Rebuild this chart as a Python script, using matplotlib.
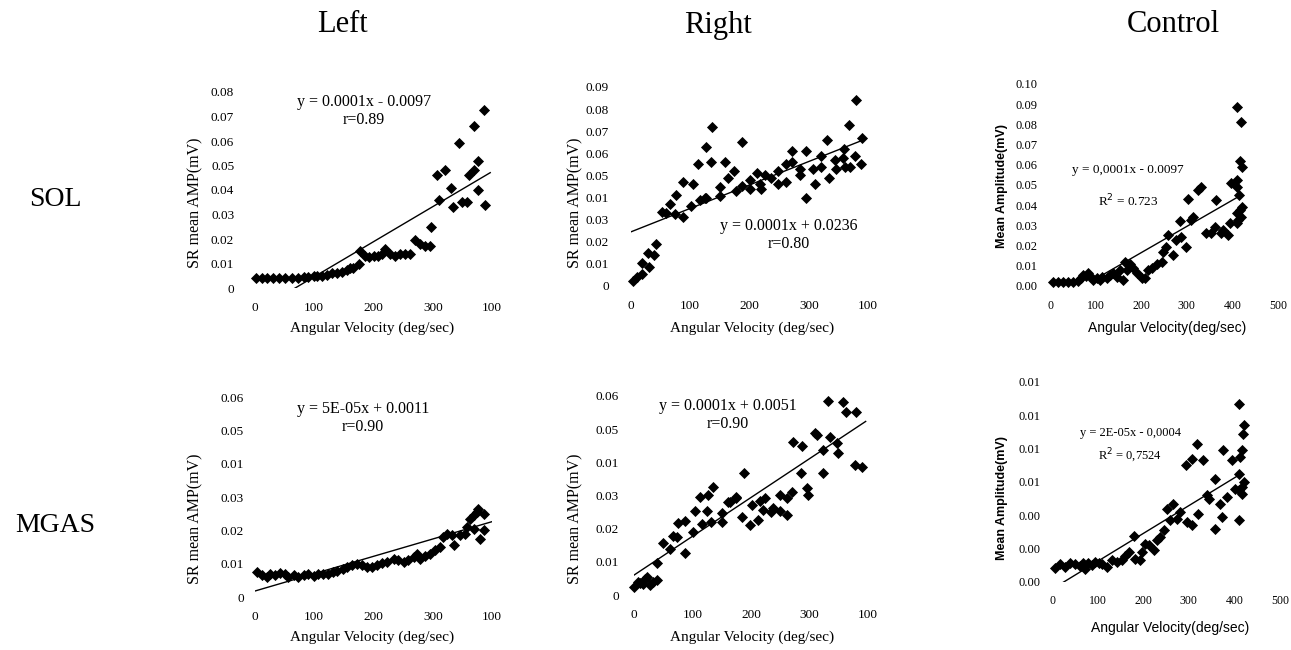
import matplotlib
matplotlib.use("Agg")
import matplotlib.pyplot as plt
import numpy as np

W, H = 1291, 650
SERIF = "Liberation Serif"
SANS = "Liberation Sans"

# ---------------- data ----------------
# SOL / Left
sol_left_x = [2, 11, 21, 30, 41, 51, 62, 73, 82, 90, 99, 104, 113, 121, 130, 138, 146, 155, 160, 166,
              175, 177, 186, 192, 200, 208, 214, 220, 228, 237, 245, 254, 262, 270, 279, 287, 296, 297,
              307, 310, 321, 330, 335, 344, 349, 358, 361, 369, 369, 377, 377, 387, 389]
sol_left_y = [0.004, 0.004, 0.004, 0.004, 0.004, 0.004, 0.004, 0.0042, 0.0045, 0.0045, 0.0048, 0.005, 0.005,
              0.0055, 0.006, 0.006, 0.0065, 0.0075, 0.008, 0.008, 0.0099, 0.0149, 0.013, 0.0125, 0.013,
              0.013, 0.014, 0.016, 0.014, 0.013, 0.014, 0.014, 0.014, 0.0197, 0.018, 0.017, 0.017, 0.025,
              0.046, 0.036, 0.048, 0.041, 0.033, 0.059, 0.035, 0.035, 0.046, 0.048, 0.066, 0.052, 0.040,
              0.0725, 0.034]
# SOL / Right
sol_right_x = [3, 10, 18, 18, 28, 31, 38, 42, 52, 59, 66, 76, 74, 88, 88, 102, 105, 113, 116, 125, 127, 127,
               136, 135, 150, 150, 158, 163, 174, 178, 187, 188, 201, 201, 212, 217, 220, 226, 237, 248,
               248, 261, 262, 271, 271, 285, 285, 296, 296, 307, 310, 321, 321, 330, 334, 345, 346, 358,
               362, 360, 368, 369, 378, 379, 389, 390]
sol_right_y = [0.0024, 0.0039, 0.0054, 0.0102, 0.0148, 0.0084, 0.014, 0.019, 0.0336, 0.033, 0.037, 0.041,
               0.0325, 0.031, 0.047, 0.036, 0.046, 0.055, 0.039, 0.040, 0.040, 0.063, 0.072, 0.056, 0.0446,
               0.0407, 0.056, 0.049, 0.052, 0.043, 0.045, 0.065, 0.044, 0.048, 0.051, 0.046, 0.044, 0.050,
               0.049, 0.052, 0.046, 0.047, 0.055, 0.061, 0.056, 0.053, 0.050, 0.061, 0.040, 0.053, 0.046,
               0.059, 0.054, 0.066, 0.049, 0.057, 0.053, 0.058, 0.054, 0.062, 0.073, 0.054, 0.059, 0.084,
               0.055, 0.067]
# SOL / Control
sol_ctrl_x = [7, 18, 29, 40, 51, 62, 69, 73, 80, 84, 91, 95, 102, 109, 113, 124, 131, 139, 146, 153, 161,
              164, 168, 175, 182, 190, 201, 208, 215, 223, 234, 245, 248, 255, 259, 270, 277, 285, 288,
              299, 303, 310, 314, 325, 332, 343, 354, 361, 365, 376, 380, 391, 394, 398, 409, 409, 409,
              410, 409, 415, 416, 420, 418, 416, 422, 418, 412]
sol_ctrl_y = [0.0021, 0.0021, 0.0021, 0.0021, 0.0021, 0.0024, 0.0038, 0.0054, 0.005, 0.0066, 0.0046, 0.003,
              0.0038, 0.003, 0.0046, 0.0038, 0.0054, 0.0063, 0.0046, 0.0079, 0.003, 0.012, 0.0079, 0.011,
              0.0087, 0.0063, 0.0038, 0.0038, 0.0079, 0.0087, 0.011, 0.012, 0.017, 0.0195, 0.025, 0.0153,
              0.0228, 0.032, 0.0244, 0.0195, 0.043, 0.0327, 0.0343, 0.0475, 0.049, 0.026, 0.026, 0.029,
              0.0426, 0.026, 0.0277, 0.025, 0.031, 0.051, 0.036, 0.031, 0.0525, 0.049, 0.0884, 0.045,
              0.062, 0.059, 0.081, 0.0376, 0.039, 0.034, 0.0327]
# MGAS / Left
mgas_left_x = [3, 11, 20, 25, 34, 42, 51, 56, 65, 73, 82, 90, 99, 107, 115, 124, 132, 138, 149, 155, 163,
               172, 180, 189, 197, 206, 214, 223, 234, 242, 251, 259, 268, 273, 279, 287, 296, 304, 313,
               318, 324, 332, 336, 346, 355, 358, 363, 369, 375, 377, 369, 380, 387, 387]
mgas_left_y = [0.0075, 0.0065, 0.006, 0.007, 0.0065, 0.0072, 0.007, 0.006, 0.0065, 0.006, 0.0065, 0.0068,
               0.0062, 0.0068, 0.0068, 0.007, 0.0075, 0.0078, 0.0085, 0.009, 0.0095, 0.010, 0.0095, 0.009,
               0.009, 0.0095, 0.0102, 0.0105, 0.0115, 0.011, 0.0105, 0.011, 0.012, 0.013, 0.0115, 0.0122,
               0.013, 0.014, 0.015, 0.018, 0.019, 0.0185, 0.0155, 0.0185, 0.019, 0.021, 0.0235, 0.0245,
               0.0255, 0.0265, 0.0205, 0.0175, 0.025, 0.020]
# MGAS / Right
mgas_right_x = [0, 6, 10, 16, 19, 23, 27, 33, 40, 39, 50, 61, 66, 74, 75, 87, 87, 101, 104, 116, 113, 124,
                127, 132, 135, 150, 150, 161, 164, 174, 175, 185, 188, 199, 201, 212, 215, 221, 224, 235,
                238, 249, 249, 261, 262, 270, 272, 288, 286, 295, 298, 309, 312, 323, 323, 335, 332, 347,
                348, 358, 363, 377, 380, 390]
mgas_right_y = [0.0025, 0.004, 0.0035, 0.0033, 0.0047, 0.0055, 0.003, 0.004, 0.0045, 0.0095, 0.0156, 0.014,
                0.0178, 0.0174, 0.0216, 0.0224, 0.0128, 0.019, 0.0254, 0.0214, 0.0296, 0.0254, 0.0301,
                0.0221, 0.0325, 0.0221, 0.0246, 0.0281, 0.0281, 0.0296, 0.0291, 0.0236, 0.0369, 0.0211,
                0.0271, 0.0226, 0.0284, 0.0256, 0.0291, 0.0251, 0.0261, 0.0254, 0.0301, 0.0291, 0.0241,
                0.0312, 0.0462, 0.0449, 0.0367, 0.0322, 0.0301, 0.0489, 0.0482, 0.0437, 0.0367, 0.0475,
                0.0585, 0.0459, 0.0427, 0.0583, 0.0553, 0.0392, 0.0553, 0.0385]
# MGAS / Control
mgas_ctrl_x = [7, 18, 29, 40, 51, 62, 69, 73, 80, 88, 95, 102, 109, 120, 131, 142, 153, 161, 168, 179, 182,
               193, 197, 204, 212, 223, 230, 237, 245, 252, 259, 266, 274, 281, 296, 294, 307, 307, 318,
               321, 332, 339, 345, 358, 358, 369, 372, 376, 383, 394, 401, 409, 409, 409, 412, 416, 420,
               418, 416, 420, 416, 409]
mgas_ctrl_y = [0.00086, 0.00106, 0.0009, 0.00114, 0.0011, 0.00094, 0.00114, 0.0008, 0.00114, 0.001, 0.0012,
               0.00114, 0.0011, 0.0009, 0.0013, 0.0012, 0.0013, 0.00154, 0.0018, 0.00274, 0.0014, 0.0013,
               0.0018, 0.0023, 0.0022, 0.00194, 0.00254, 0.0027, 0.0031, 0.0044, 0.0037, 0.0047, 0.0038,
               0.0042, 0.0036, 0.007, 0.0074, 0.0034, 0.0083, 0.0041, 0.0073, 0.0052, 0.005, 0.0062,
               0.0032, 0.0047, 0.0039, 0.0079, 0.0051, 0.0073, 0.0056, 0.0065, 0.0037, 0.0107, 0.0075,
               0.0079, 0.0094, 0.0089, 0.0053, 0.006, 0.0057, 0.0055]

# trend lines (slope, intercept, x start, x end)
trend_slope = [0.000143, 0.000106, 0.00013, 5.2e-05, 0.000117, 1.67e-05]
trend_icpt = [-0.0097, 0.0245, -0.0095, 0.0018, 0.006, -0.00043]
trend_x0 = [0, 0, 90, 0, 0, 0]
trend_x1 = [397, 396, 410, 400, 396, 416]

equations = [
    ("y = 0.0001x - 0.0097", "r=0.89"),
    ("y = 0.0001x + 0.0236", "r=0.80"),
    ("y = 0,0001x - 0.0097", "R$^2$ = 0.723"),
    ("y = 5E-05x + 0.0011", "r=0.90"),
    ("y = 0.0001x + 0.0051", "r=0.90"),
    ("y = 2E-05x - 0,0004", "R$^2$ = 0,7524"),
]

col_titles = ["Left", "Right", "Control"]
row_titles = ["SOL", "MGAS"]

# tick values and labels
xt_lr = [0, 100, 200, 300, 400]
xl_lr = ["0", "100", "200", "300", "100"]
xt_c = [0, 100, 200, 300, 400, 500]
xl_c = ["0", "100", "200", "300", "400", "500"]
yt = [
    [0, 0.01, 0.02, 0.03, 0.04, 0.05, 0.06, 0.07, 0.08],
    [0, 0.01, 0.02, 0.03, 0.04, 0.05, 0.06, 0.07, 0.08, 0.09],
    [0, 0.01, 0.02, 0.03, 0.04, 0.05, 0.06, 0.07, 0.08, 0.09, 0.10],
    [0, 0.01, 0.02, 0.03, 0.04, 0.05, 0.06],
    [0, 0.01, 0.02, 0.03, 0.04, 0.05, 0.06],
    [0, 0.002, 0.004, 0.006, 0.008, 0.010, 0.012],
]
yl = [
    ["0", "0.01", "0.02", "0.03", "0.04", "0.05", "0.06", "0.07", "0.08"],
    ["0", "0.01", "0.02", "0.03", "0.01", "0.05", "0.06", "0.07", "0.08", "0.09"],
    ["0.00", "0.01", "0.02", "0.03", "0.04", "0.05", "0.06", "0.07", "0.08", "0.09", "0.10"],
    ["0", "0.01", "0.02", "0.03", "0.01", "0.05", "0.06"],
    ["0", "0.01", "0.02", "0.03", "0.01", "0.05", "0.06"],
    ["0.00", "0.00", "0.00", "0.01", "0.01", "0.01", "0.01"],
]

xs = [sol_left_x, sol_right_x, sol_ctrl_x, mgas_left_x, mgas_right_x, mgas_ctrl_x]
ys = [sol_left_y, sol_right_y, sol_ctrl_y, mgas_left_y, mgas_right_y, mgas_ctrl_y]

# ---------------- layout (pixels) ----------------
# (x of data x0, x of data xmax, y of data 0, y of data ymax)
boxes = [
    (255, 492, 288, 92),
    (631, 868, 286, 87),
    (1050, 1278, 286, 84),
    (255, 492, 597, 397),
    (634, 868, 595, 396),
    (1052, 1280, 582, 382),
]
xmax = [400, 400, 500, 400, 400, 500]
ymax = [0.08, 0.09, 0.10, 0.06, 0.06, 0.012]
ypad = [15, 16, 9, 8, 11, 8]
xpad = [10, 10, 10, 10, 10, 9]
eq_size = [11.5, 11.5, 9.5, 11.5, 11.5, 9]
eq_pos = [(364, 102, 120), (789, 226, 244), (1128, 170, 201), (363, 409, 427), (728, 406, 424), (1130, 433, 456)]
ylab_pos = [(195, 203), (575, 203), (1002, 186), (195, 519), (575, 519), (1002, 498)]
xlab_pos = [(372, 328), (752, 328), (1167, 328), (372, 637), (752, 637), (1170, 628)]


def fx(px):
    return px / W


def fy(py):
    return 1 - py / H


fig = plt.figure(figsize=(W / 100, H / 100), dpi=100)
fig.patch.set_facecolor("white")

for i in range(6):
    x0, x1, y0, y1 = boxes[i]
    ax = fig.add_axes([fx(x0), fy(y0), fx(x1 - x0), (y0 - y1) / H])
    ax.set_xlim(0, xmax[i])
    ax.set_ylim(0, ymax[i])
    for s in ax.spines.values():
        s.set_visible(False)
    ax.patch.set_alpha(0)
    ctrl = (i % 3 == 2)
    ax.set_xticks(xt_c if ctrl else xt_lr)
    ax.set_xticklabels(xl_c if ctrl else xl_lr, fontfamily=SERIF, fontsize=8.5 if ctrl else 9.5)
    ax.set_yticks(yt[i])
    ax.set_yticklabels(yl[i], fontfamily=SERIF, fontsize=9 if ctrl else 9.5)
    ax.tick_params(axis="both", length=0)
    ax.tick_params(axis="y", pad=ypad[i])
    ax.tick_params(axis="x", pad=xpad[i])

    ax.scatter(xs[i], ys[i], marker="D", s=32, color="black", linewidths=0, zorder=3, clip_on=False)
    lx = np.array([trend_x0[i], trend_x1[i]], dtype=float)
    ax.plot(lx, trend_slope[i] * lx + trend_icpt[i], color="black", lw=1.0, zorder=2)

    ex, ey1, ey2 = eq_pos[i]
    fig.text(fx(ex), fy(ey1), equations[i][0], ha="center", va="center", fontfamily=SERIF, fontsize=eq_size[i])
    fig.text(fx(ex), fy(ey2), equations[i][1], ha="center", va="center", fontfamily=SERIF, fontsize=eq_size[i])

    px, py = ylab_pos[i]
    if ctrl:
        fig.text(fx(px), fy(py), "Mean Amplitude(mV)", rotation=90, ha="center", va="center",
                 fontfamily=SANS, fontsize=9, fontweight="bold")
    else:
        fig.text(fx(px), fy(py), "SR mean AMP(mV)", rotation=90, ha="center", va="center",
                 fontfamily=SERIF, fontsize=11.5)
    px, py = xlab_pos[i]
    if ctrl:
        fig.text(fx(px), fy(py), "Angular Velocity(deg/sec)", ha="center", va="center",
                 fontfamily=SANS, fontsize=10)
    else:
        fig.text(fx(px), fy(py), "Angular Velocity (deg/sec)", ha="center", va="center",
                 fontfamily=SERIF, fontsize=11)

for t, x in zip(col_titles, [342, 718, 1173]):
    fig.text(fx(x), fy(25), t, ha="center", va="center", fontfamily=SERIF, fontsize=22)
for t, (x, y) in zip(row_titles, [(55, 200), (55, 525)]):
    fig.text(fx(x), fy(y), t, ha="center", va="center", fontfamily=SERIF, fontsize=20)

fig.savefig("out.png", dpi=100, facecolor="white")
